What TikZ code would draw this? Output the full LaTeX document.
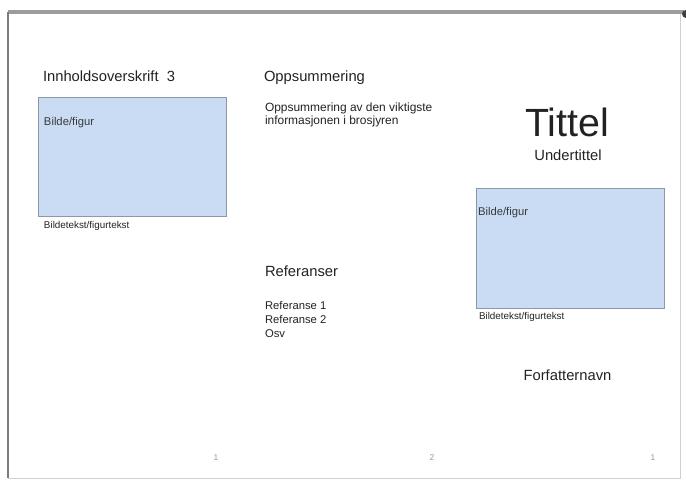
\documentclass[tikz,border=0pt]{standalone}
\usepackage{fontspec}
\setmainfont{Liberation Sans}
\usetikzlibrary{positioning}
\definecolor{figfill}{HTML}{CADCF3}
\definecolor{figline}{HTML}{8C98A8}
\definecolor{inkcolor}{HTML}{222222}
\definecolor{framecolor}{HTML}{8A8A8A}

\begin{document}
\begin{tikzpicture}[x=0.025cm, y=-0.025cm,
    every node/.style={inner sep=0pt, outer sep=0pt, text=inkcolor},
    heading/.style={anchor=base west, font=\fontsize{10.5}{12}\selectfont},
    bodytext/.style={anchor=base west, font=\fontsize{8.5}{10}\selectfont},
    reftext/.style={anchor=base west, font=\fontsize{8}{10}\selectfont},
    caption/.style={anchor=base west, font=\fontsize{7}{8}\selectfont},
    figbox/.style={draw=figline, fill=figfill, line width=0.6pt, anchor=north west,
                   minimum width=4.7cm, minimum height=2.98cm},
    figlabel/.style={anchor=base west, font=\fontsize{8}{9}\selectfont,
                     text=inkcolor!80!figline},
    pagenum/.style={anchor=base, font=\fontsize{6}{7}\selectfont, text=black!40}
]
    \useasboundingbox (0,0) rectangle (686,485);

    % Page frame
    \coordinate (tl) at (8,12);
    \coordinate (br) at (680,478);
    \draw[framecolor!40, line width=0.6pt] (tl) rectangle (br);
    \draw[framecolor!85, line width=2.8pt] (tl) -- (684,12);
    \draw[framecolor!90!black, line width=1.8pt] (tl) -- (tl |- br);
    \fill[black!75] (686,14) circle (4);

    % Panel 1: content
    \node[heading] (h1) at (43,82) {Innholdsoverskrift\ \ 3};
    \node[figbox] (fig1) at (38,97) {};
    \node[figlabel] (fig1lbl) at (44,125.5) {Bilde/figur};
    \node[caption] (fig1cap) at (44,229) {Bildetekst/figurtekst};

    % Panel 2: summary and references
    \node[heading] (sumhead) at (264,82) {Oppsummering};
    \node[bodytext] (sum1) at (265,112) {Oppsummering av den viktigste};
    \node[bodytext] (sum2) at (265,125) {informasjonen i brosjyren};

    \node[heading] (refhead) at (265,277) {Referanser};
    \node[reftext] (ref1) at (265,310) {Referanse 1};
    \node[reftext] (ref2) at (265,324) {Referanse 2};
    \node[reftext] (ref3) at (265,338) {Osv};

    % Panel 3: cover
    \node[anchor=base, font=\fontsize{28}{30}\selectfont] (title) at (567,137) {Tittel};
    \node[anchor=base, font=\fontsize{10.5}{12}\selectfont] (subtitle) at (568,161) {Undertittel};
    \node[figbox, minimum height=3cm] (fig2) at (476,188) {};
    \node[figlabel] (fig2lbl) at (478,216) {Bilde/figur};
    \node[caption] (fig2cap) at (479,320) {Bildetekst/figurtekst};
    \node[anchor=base, font=\fontsize{10.5}{12}\selectfont] (author) at (567.5,380) {Forfatternavn};

    % Page numbers
    \node[pagenum] (pg1) at (216,461) {1};
    \node[pagenum] (pg2) at (432,461) {2};
    \node[pagenum] (pg3) at (653,461) {1};
\end{tikzpicture}
\end{document}
